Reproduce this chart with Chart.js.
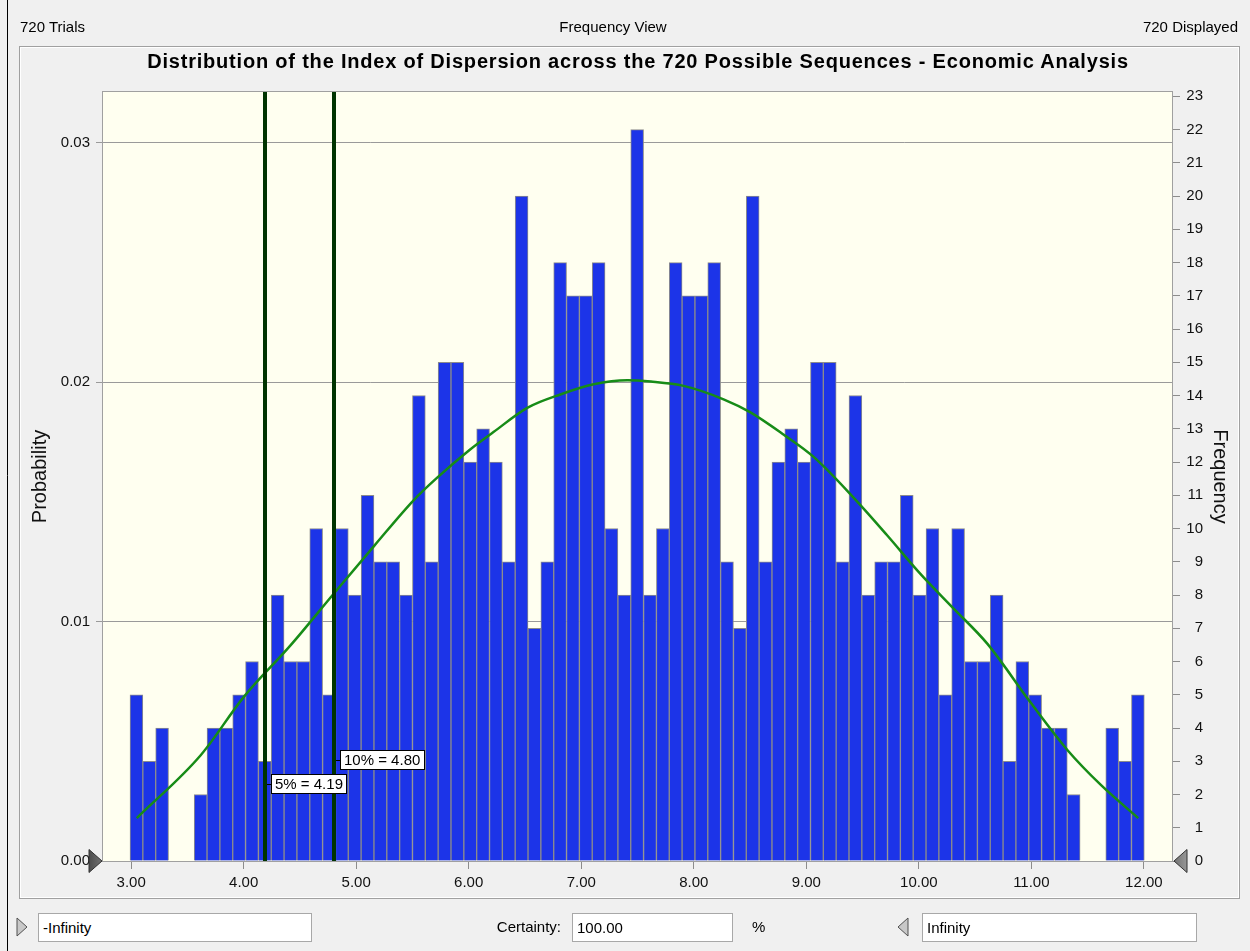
<!DOCTYPE html>
<html>
<head>
<meta charset="utf-8">
<title>Distribution of the Index of Dispersion</title>
<script src="https://cdn.jsdelivr.net/npm/chart.js@4.4.1/dist/chart.umd.min.js"></script>
<style>
  html, body { margin: 0; padding: 0; background: #f0f0f0; }
  body { width: 1250px; height: 951px; position: relative; overflow: hidden;
         font-family: "Liberation Sans", Arial, sans-serif; color: #000; }
  #chart { position: absolute; left: 0; top: 0; }
  .txt { position: absolute; font-size: 15px; line-height: 18px; white-space: nowrap; }
  .title { position: absolute; left: 0; width: 1276px; top: 49px; text-align: center;
           font-size: 20px; font-weight: bold; letter-spacing: 0.8px; line-height: 24px; white-space: nowrap; }
  .box { position: absolute; top: 913px; height: 29px; box-sizing: border-box; background: #fff;
         border: 1px solid #a8a8a8; font-size: 15px; line-height: 27px; padding-left: 4px; }
</style>
</head>
<body>
<canvas id="chart" width="1250" height="951"></canvas>

<div class="txt" style="left:20px; top:18px">720 Trials</div>
<div class="txt" style="left:0; width:1226px; top:18px; text-align:center">Frequency View</div>
<div class="txt" style="right:12px; top:18px">720 Displayed</div>
<div class="title">Distribution of the Index of Dispersion across the 720 Possible Sequences - Economic Analysis</div>

<div class="box" style="left:38px; width:274px">-Infinity</div>
<div class="txt" style="right:689px; top:918px">Certainty:</div>
<div class="box" style="left:572px; width:161px">100.00</div>
<div class="txt" style="left:752px; top:918px">%</div>
<div class="box" style="left:922px; width:275px">Infinity</div>

<script>
// data
const trials = 720;
const binStart = 2.99;
const binWidth = 0.1141;
const frequency = [
  5, 3, 4, 0, 0, 2, 4, 4, 5, 6,
  3, 8, 6, 6, 10, 5, 10, 8, 11, 9,
  9, 8, 14, 9, 15, 15, 12, 13, 12, 9,
  20, 7, 9, 18, 17, 17, 18, 10, 8, 22,
  8, 10, 18, 17, 17, 18, 9, 7, 20, 9,
  12, 13, 12, 15, 15, 9, 14, 8, 9, 9,
  11, 8, 10, 5, 10, 6, 6, 8, 3, 6,
  5, 4, 4, 2, 0, 0, 4, 3, 5
];

// fitted curve (green), in frequency units
const curveX    = [3.05, 3.62, 4.00, 4.42, 4.80, 5.16, 5.51, 5.72, 6.01, 6.22, 6.52, 6.82, 7.11, 7.41, 7.62,
                   7.91, 8.27, 8.50, 8.80, 9.07, 9.42, 9.72, 10.01, 10.31, 10.61, 10.99, 11.32, 11.62, 11.95];
const curveFreq = [1.29, 3.19, 4.93, 6.50, 8.04, 9.48, 10.85, 11.53, 12.37, 12.90, 13.63, 14.04, 14.34, 14.46, 14.42,
                   14.29, 13.88, 13.50, 12.82, 12.14, 10.93, 9.79, 8.65, 7.59, 6.53, 4.78, 3.34, 2.28, 1.29];

// percentile markers
const markerValues = [4.19, 4.80];
const markerNames = ['5%', '10%'];

// axes
const xMin = 2.75, xMax = 12.25;
const freqMax = 23.13;
const xTicks = [3, 4, 5, 6, 7, 8, 9, 10, 11, 12];
const probTicks = [0, 0.01, 0.02, 0.03];
const freqTicks = [0, 1, 2, 3, 4, 5, 6, 7, 8, 9, 10, 11, 12, 13, 14, 15, 16, 17, 18, 19, 20, 21, 22, 23];

const FONT = '"Liberation Sans", Arial, sans-serif';
Chart.defaults.font.family = FONT;

const labelLift = [77, 101];   // px above the baseline for the marker boxes

function grabber(ctx, tipX, y, dir) {
  const g = ctx.createLinearGradient(tipX - 14, 0, tipX + 14, 0);
  g.addColorStop(0, '#4a4a4a');
  g.addColorStop(1, '#9a9a9a');
  ctx.beginPath();
  ctx.moveTo(tipX, y);
  ctx.lineTo(tipX - dir * 13, y - 11.5);
  ctx.lineTo(tipX - dir * 13, y + 11.5);
  ctx.closePath();
  ctx.fillStyle = g;
  ctx.fill();
  ctx.strokeStyle = '#303030';
  ctx.lineWidth = 1;
  ctx.stroke();
}

function hollowTri(ctx, tipX, y, dir) {
  ctx.beginPath();
  ctx.moveTo(tipX, y);
  ctx.lineTo(tipX - dir * 10, y - 9);
  ctx.lineTo(tipX - dir * 10, y + 9);
  ctx.closePath();
  ctx.fillStyle = '#c8c8c8';
  ctx.fill();
  ctx.strokeStyle = '#505050';
  ctx.lineWidth = 1;
  ctx.stroke();
}

const decor = {
  id: 'decor',
  beforeDraw(chart) {
    const ctx = chart.ctx, a = chart.chartArea;
    ctx.save();
    // window frame line and chart panel
    ctx.strokeStyle = '#000';
    ctx.lineWidth = 1;
    ctx.beginPath(); ctx.moveTo(7.5, 0); ctx.lineTo(7.5, 951); ctx.stroke();
    ctx.strokeStyle = '#a0a0a0';
    ctx.strokeRect(19.5, 46.5, 1220, 852);
    ctx.strokeStyle = '#ffffff';
    ctx.strokeRect(20.5, 47.5, 1218, 850);
    // plot background
    ctx.fillStyle = '#fffff0';
    ctx.fillRect(a.left, a.top, a.right - a.left, a.bottom - a.top);
    // bottom bar triangles
    hollowTri(ctx, 27, 927, 1);
    hollowTri(ctx, 898, 927, -1);
    ctx.restore();
  },
  afterDatasetsDraw(chart) {
    const ctx = chart.ctx, a = chart.chartArea, xs = chart.scales.x;
    ctx.save();
    markerValues.forEach((v, i) => {
      const px = Math.round(xs.getPixelForValue(v));
      ctx.fillStyle = '#003400';
      ctx.fillRect(px - 2, a.top, 4, a.bottom - a.top);
    });
    ctx.font = '15px ' + FONT;
    ctx.textBaseline = 'middle';
    markerValues.forEach((v, i) => {
      const px = Math.round(xs.getPixelForValue(v));
      const text = markerNames[i] + ' = ' + v.toFixed(2);
      const w = Math.ceil(ctx.measureText(text).width) + 8;
      const cy = Math.round(a.bottom - labelLift[i]);
      const bx = px + 6;
      ctx.strokeStyle = '#000';
      ctx.lineWidth = 1;
      ctx.beginPath(); ctx.moveTo(px + 2, cy + 0.5); ctx.lineTo(bx, cy + 0.5); ctx.stroke();
      ctx.fillStyle = '#fff';
      ctx.fillRect(bx, cy - 10, w, 20);
      ctx.strokeRect(bx + 0.5, cy - 9.5, w - 1, 19);
      ctx.fillStyle = '#000';
      ctx.fillText(text, bx + 4, cy + 1);
    });
    ctx.restore();
  },
  afterDraw(chart) {
    const ctx = chart.ctx, a = chart.chartArea;
    ctx.save();
    ctx.strokeStyle = '#a0a0a0';
    ctx.lineWidth = 1;
    ctx.strokeRect(a.left - 0.5, a.top - 0.5, a.right - a.left + 1, a.bottom - a.top + 1);
    grabber(ctx, a.left - 1, a.bottom, 1);
    grabber(ctx, a.right + 2, a.bottom, -1);
    ctx.restore();
  }
};

new Chart(document.getElementById('chart'), {
  type: 'bar',
  data: {
    datasets: [
      {
        type: 'line',
        label: 'Fit',
        data: curveX.map((x, i) => ({ x: x, y: curveFreq[i] })),
        yAxisID: 'yFreq',
        borderColor: '#178c17',
        borderWidth: 2.5,
        pointRadius: 0,
        cubicInterpolationMode: 'monotone',
        order: 0
      },
      {
        type: 'bar',
        label: 'Frequency',
        data: frequency.map((f, i) => ({ x: binStart + (i + 0.5) * binWidth, y: f || null })),
        yAxisID: 'yFreq',
        backgroundColor: '#1c34e8',
        borderColor: '#8c8c8c',
        borderWidth: 1,
        borderSkipped: 'bottom',
        barPercentage: 1,
        categoryPercentage: 1,
        order: 1
      }
    ]
  },
  options: {
    responsive: false,
    animation: false,
    devicePixelRatio: 1,
    layout: { padding: { left: 0, right: 47, top: 92, bottom: 50 } },
    plugins: {
      legend: { display: false },
      tooltip: { enabled: false }
    },
    scales: {
      x: {
        type: 'linear',
        min: xMin,
        max: xMax,
        offset: false,
        grid: { drawOnChartArea: false, offset: false, tickLength: 8, color: '#8c8c8c' },
        border: { display: false },
        ticks: { color: '#111', font: { size: 15 }, padding: 5, maxRotation: 0, autoSkip: false,
                 callback: v => v.toFixed(2) },
        afterBuildTicks: s => { s.ticks = xTicks.map(v => ({ value: v })); },
        afterFit: s => { s.height = 40; }
      },
      yProb: {
        type: 'linear',
        position: 'left',
        min: 0,
        max: freqMax / trials,
        grid: { color: '#9a9a9a', tickLength: 7 },
        border: { display: false },
        ticks: { color: '#111', font: { size: 15 }, padding: 6, callback: v => v.toFixed(2) },
        afterBuildTicks: s => { s.ticks = probTicks.map(v => ({ value: v })); },
        afterFit: s => { s.width = 103; },
        title: { display: true, text: 'Probability', color: '#111', font: { size: 20 },
                 padding: { top: 28, bottom: 0 } }
      },
      yFreq: {
        type: 'linear',
        position: 'right',
        min: 0,
        max: freqMax,
        grid: { drawOnChartArea: false, tickLength: 8, color: '#8c8c8c' },
        border: { display: false },
        ticks: { color: '#111', font: { size: 15 }, crossAlign: 'far' },
        afterBuildTicks: s => { s.ticks = freqTicks.map(v => ({ value: v })); },
        afterFit: s => { s.width = 31; },
        title: { display: true, text: 'Frequency', color: '#111', font: { size: 20 },
                 padding: { top: -29, bottom: 0 } }
      }
    }
  },
  plugins: [decor]
});
</script>
</body>
</html>
